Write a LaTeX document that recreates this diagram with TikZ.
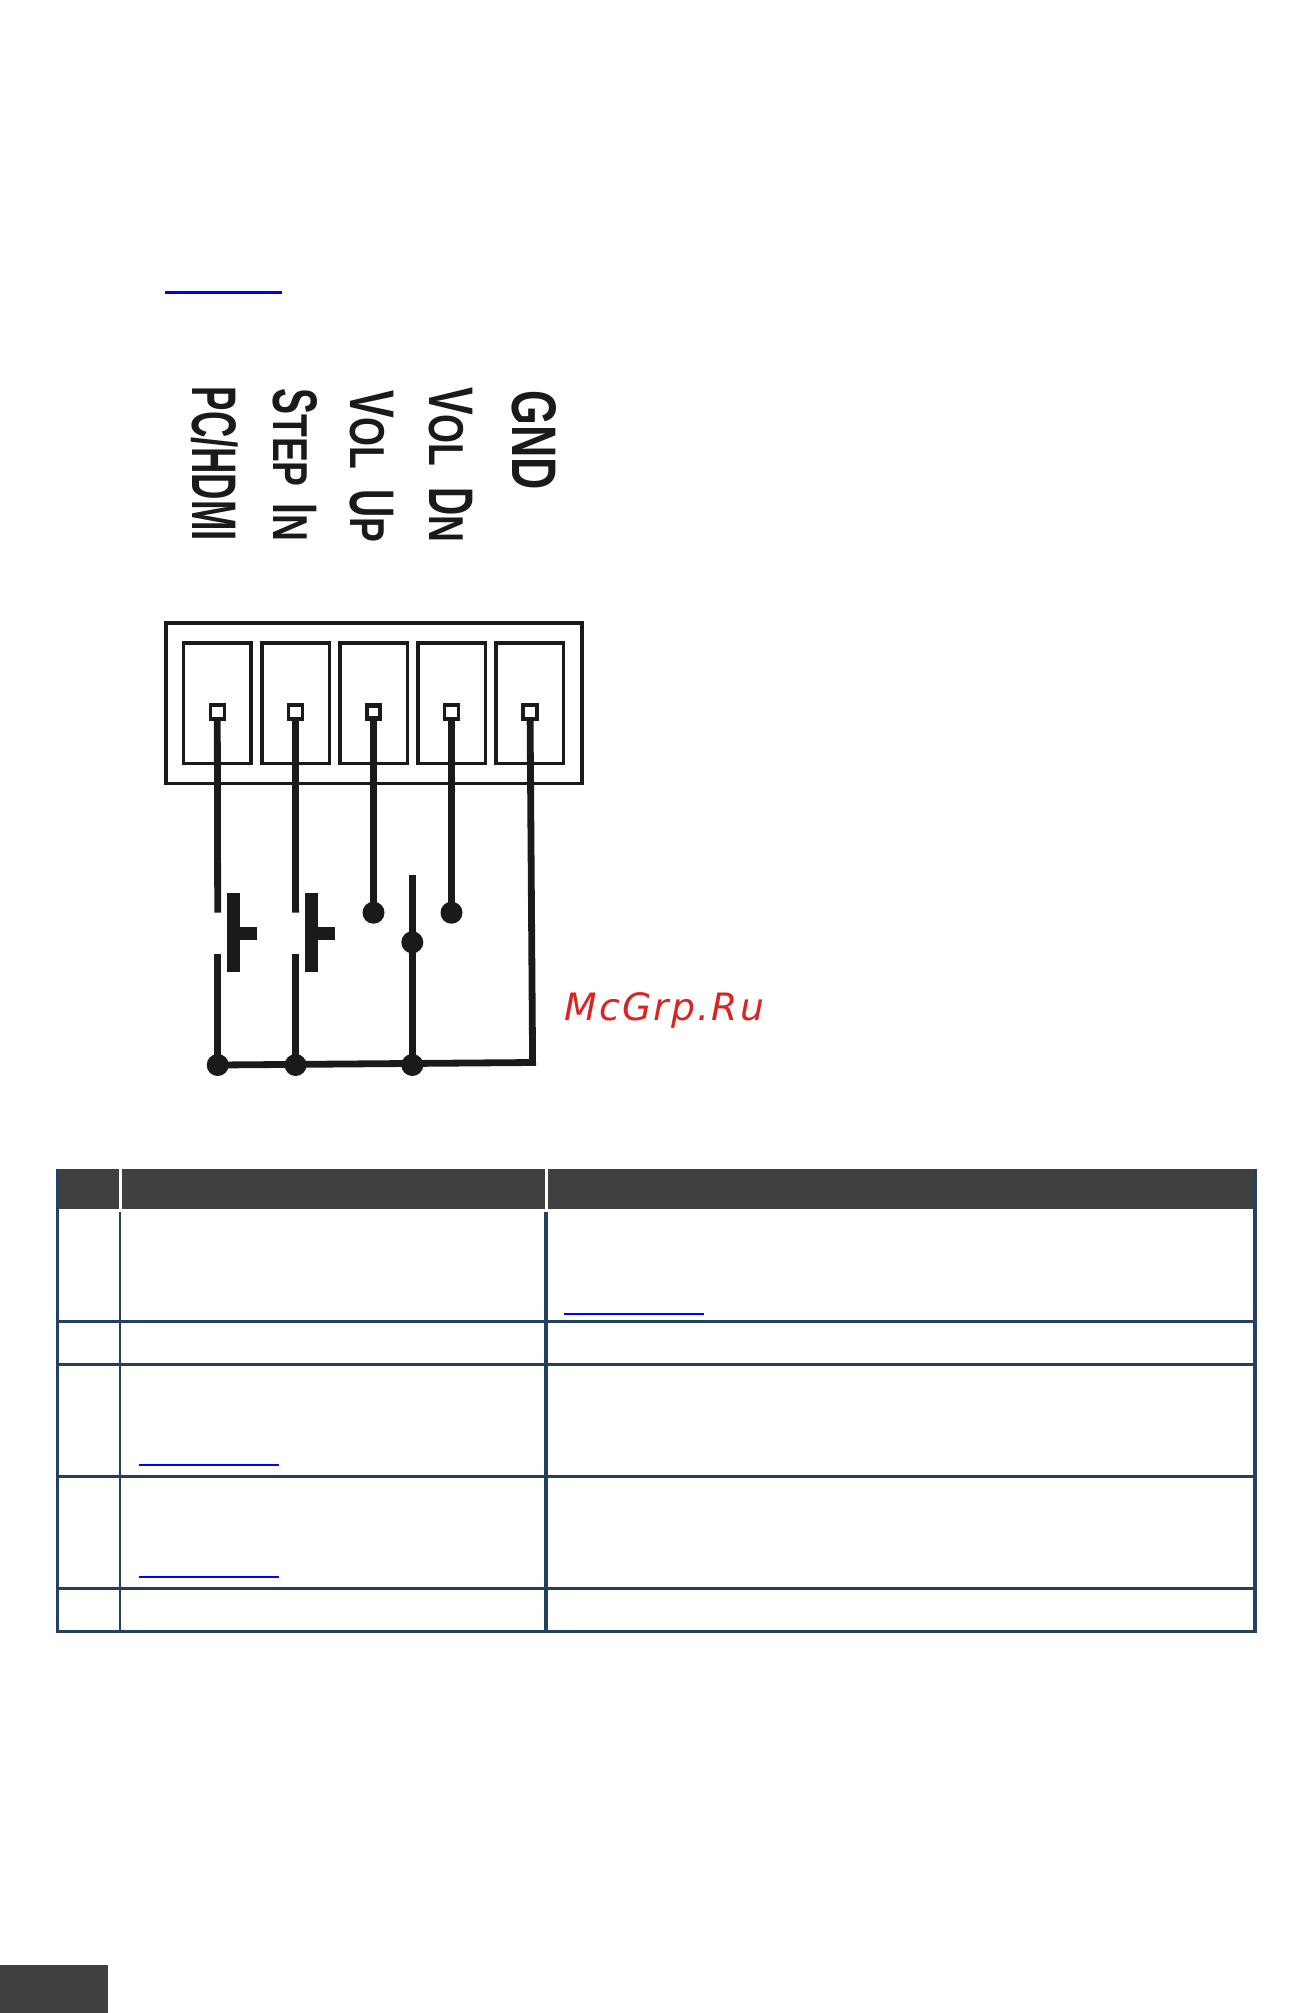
\documentclass[tikz,border=0pt]{standalone}
\usepackage{fontspec}
\setmainfont{Liberation Sans}
\newfontfamily\markfont[LetterSpace=6]{DejaVu Sans}
\usetikzlibrary{positioning}
\definecolor{rulecol}{HTML}{24405F}
\definecolor{headcol}{HTML}{404040}
\definecolor{wirecol}{HTML}{1A1A1A}
\definecolor{markcol}{HTML}{DC2323}
\newcommand{\capbig}[2]{\scalebox{#1}[1]{\fontsize{63}{63}\selectfont\bfseries #2}}
\newcommand{\capsml}[1]{\scalebox{.76}[1]{\fontsize{49}{49}\selectfont\bfseries #1}}
\tikzset{
	pinlabel/.style={rotate=-90,anchor=base west,inner sep=0pt,text=wirecol},
	wire/.style={draw=wirecol,line width=6.8pt},
	dotfill/.style={fill=wirecol},
	boxline/.style={draw=wirecol,line width=3.4pt},
	tablerule/.style={draw=rulecol,line width=3.3pt},
	linkline/.style={draw=blue,line width=2.4pt},
}
\begin{document}
\begin{tikzpicture}[x=1pt,y=-1pt,line join=miter]
	\useasboundingbox (0,0) rectangle (1314,2013);
	\path (217.7,912.7) coordinate (A1)
	(217.7,954.3) coordinate (B1)
	(217.7,1065) coordinate (J1)
	(295.6,912.7) coordinate (A2)
	(295.6,954.3) coordinate (B2)
	(295.6,1065) coordinate (J2)
	(373.5,912.7) coordinate (D3)
	(451.5,912.7) coordinate (D4)
	(412.3,875) coordinate (M)
	(412.3,942.3) coordinate (D5)
	(412.3,1065) coordinate (J3)
	(532.6,1062.5) coordinate (C)
	;
	% top link
	\draw[linkline,line width=3.2pt] (165,292.8) -- (282,292.8);
	% pin labels
	\node[pinlabel] (pc) at (192.5,386.5) {\capbig{.58}{PC/HDMI}};
	\node[pinlabel] (step) at (273,388) {\capbig{.62}{S}\capsml{TEP}\hspace{17pt}\capbig{.62}{I}\capsml{N}};
	\node[pinlabel] (volup) at (350.5,390) {\capbig{.66}{V}\capsml{OL}\hspace{20pt}\capbig{.62}{U}\capsml{P}};
	\node[pinlabel] (voldn) at (429.5,387) {\capbig{.66}{V}\capsml{OL}\hspace{21pt}\capbig{.62}{D}\capsml{N}};
	\node[pinlabel] (gnd) at (512.5,390) {\capbig{.71}{GND}};
	% connector body
	\draw[boxline,line width=3.8pt] (166,623.3) rectangle (582,783.4);
	\foreach \n/\x in {1/183.5,2/261.8,3/339.8,4/417.8,5/495.8}
	\draw[boxline] (\x,643) rectangle ++(67.5,120.4);
	\foreach \n/\x in {1/217.3,2/295.4,3/373.5,4/451.5,5/530.1}{
		\draw[boxline] (\x-7,705) rectangle ++(14,14);
		\coordinate (T\n) at (\x,719);
	}
	\draw[boxline,line width=4.8pt] (373.5-6.5,705.5) rectangle ++(13,13);
	% wires
	\draw[wire] (T1)--(A1);
	\draw[wire] (T2)--(A2);
	\draw[wire] (B1)--(J1);
	\draw[wire] (B2)--(J2);
	\draw[wire] (T3)--(D3);
	\draw[wire] (T4)--(D4);
	\draw[wire] (M)--(J3);
	\draw[wire] (T5)--(C)--(J1);
	% push buttons
	\foreach \x in {233.4,311.3}{
		\fill[dotfill] (\x-6.3,893.3) rectangle (\x+6.3,972.3);
		\fill[dotfill] (\x,926.7) rectangle (\x+24,940);
	}
	\foreach \p in {J1,J2,J3,D3,D4,D5}
	\fill[dotfill] (\p) circle (11pt);
	% watermark
	\node[anchor=base west,inner sep=0pt,text=markcol] (mark) at (564,1020.7) {\markfont\fontsize{37.7}{38}\selectfont\itshape McGrp.Ru};
	% table
	\fill[headcol] (59,1169) rectangle (119,1209);
	\fill[headcol] (122,1169) rectangle (544.6,1209);
	\fill[headcol] (547.6,1169) rectangle (1254,1209);
	\foreach \y in {1321.3,1364.3,1476.3,1588.3,1631.3}
	\draw[tablerule] (56,\y) -- (1256.5,\y);
	\draw[tablerule] (57.5,1169) -- (57.5,1632.9);
	\draw[tablerule] (1255,1169) -- (1255,1632.9);
	\draw[tablerule,line width=2.2pt] (120,1212) -- (120,1631);
	\draw[tablerule] (546.1,1212) -- (546.1,1631);
	\draw[linkline] (564,1314) -- (704,1314);
	\draw[linkline] (139,1465) -- (279,1465);
	\draw[linkline] (139,1577) -- (279,1577);
	% page tab
	\fill[headcol] (0,1965) rectangle (107.7,2013);
\end{tikzpicture}
\end{document}
